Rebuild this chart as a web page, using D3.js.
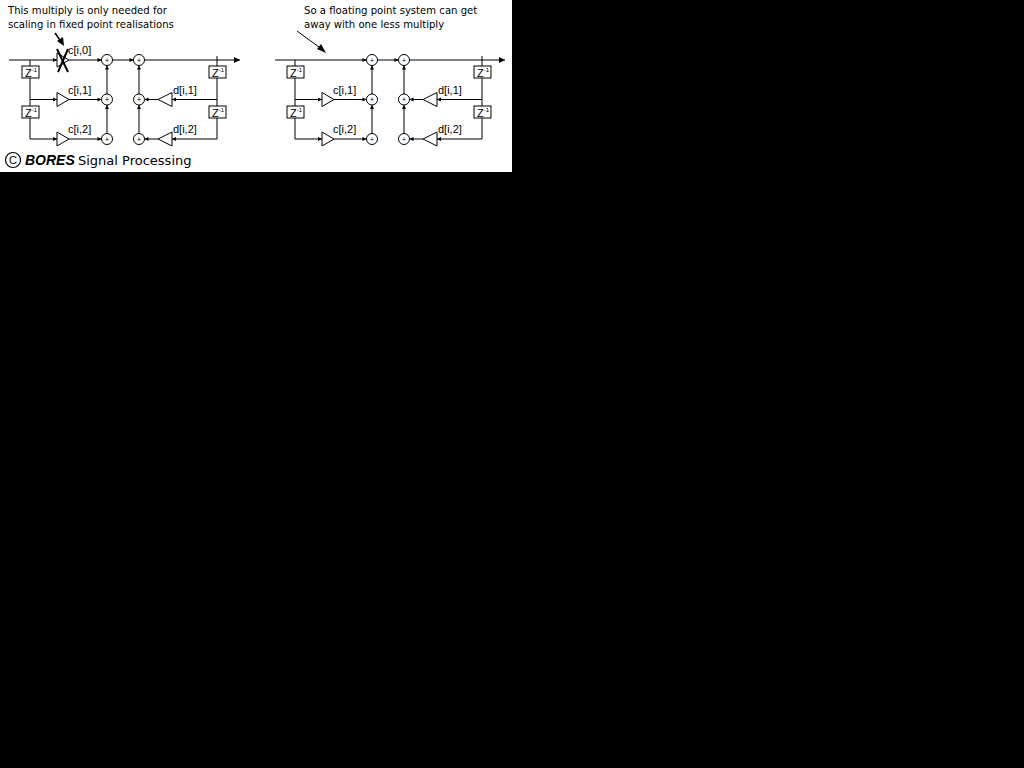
<!DOCTYPE html>
<html lang="en">
<head>
<meta charset="UTF-8">
<title>Biquad section - fixed vs floating point</title>
<style>
  body { margin: 0; background: #000; }
  svg { display: block; }
  text { font-family: "Liberation Sans", Arial, sans-serif; fill: #000; }
  .note, .credit { font-family: "DejaVu Sans", sans-serif; }
</style>
</head>
<body>
<div id="chart"></div>
<script src="https://d3js.org/d3.v7.min.js"></script>
<script>
// panels and their notes
const panels = ["fixed", "float"];
const notes = [
  ["This multiply is only needed for", "scaling in fixed point realisations"],
  ["So a floating point system can get", "away with one less multiply"]
];
// coefficient labels (feed-forward and feedback)
const ffLabels = ["c[i,0]", "c[i,1]", "c[i,2]"];
const fbLabels = ["d[i,1]", "d[i,2]"];
const rows = [0, 1, 2];
const credit = ["BORES", "Signal Processing"];

const W = 1024, H = 768;
const svg = d3.select("#chart").append("svg").attr("width", W).attr("height", H);
svg.append("rect").attr("width", 512).attr("height", 172).attr("fill", "#fff");

// scales
const panelX = d3.scalePoint().domain(panels).range([0, 265]);
const rowY = d3.scalePoint().domain(rows).range([60, 139]);

// column layout inside one panel
const col = { start: 9, delayL: 30, mult: 57, multW: 12, addF: 107, addB: 139,
              fbTip: 158, fbW: 14, delayR: 217, end: 240 };
const R = 5.5;

function line(g, x1, y1, x2, y2, w) {
  g.append("line").attr("x1", x1).attr("y1", y1).attr("x2", x2).attr("y2", y2)
    .attr("stroke", "#000").attr("stroke-width", w || 1);
}
// small filled arrow head, tip at (x,y)
function head(g, x, y, dir, s) {
  s = s || 4;
  const pts = {
    r: [[x, y], [x - s, y - s / 2], [x - s, y + s / 2]],
    l: [[x, y], [x + s, y - s / 2], [x + s, y + s / 2]],
    u: [[x, y], [x - s / 2, y + s], [x + s / 2, y + s]]
  }[dir];
  g.append("polygon").attr("points", pts.map(p => p.join(",")).join(" ")).attr("fill", "#000");
}
function adder(g, x, y) {
  g.append("circle").attr("cx", x).attr("cy", y).attr("r", R)
    .attr("fill", "#fff").attr("stroke", "#000");
  g.append("text").attr("x", x).attr("y", y + 2.5).attr("text-anchor", "middle")
    .attr("font-size", 7).text("+");
}
function delay(g, cx, y) {
  g.append("rect").attr("x", cx - 8).attr("y", y).attr("width", 17).attr("height", 12)
    .attr("fill", "#fff").attr("stroke", "#000");
  const t = g.append("text").attr("x", cx - 5).attr("y", y + 10.5).attr("font-size", 11);
  t.append("tspan").text("Z");
  t.append("tspan").attr("dy", -5).attr("font-size", 6).text("-1");
}
function gain(g, x, y, dir) {
  const w = dir === "r" ? col.multW : col.fbW, h = 7;
  const pts = dir === "r"
    ? [[x, y - h], [x + w, y], [x, y + h]]
    : [[x, y], [x + w, y - h], [x + w, y + h]];
  g.append("polygon").attr("points", pts.map(p => p.join(",")).join(" "))
    .attr("fill", "#fff").attr("stroke", "#000");
}

panels.forEach((p, pi) => {
  const g = svg.append("g").attr("transform", `translate(${panelX(p)},0)`);
  const y0 = rowY(0);

  // notes
  notes[pi].forEach((s, i) => {
    g.append("text").attr("class", "note").attr("x", pi ? 39 : 8).attr("y", 14 + i * 13.5)
      .attr("font-size", 10.1).text(s);
  });

  // main path
  if (pi === 0) {
    line(g, col.start, y0, col.mult, y0);
    head(g, col.mult, y0, "r");
    line(g, col.mult + col.multW, y0, col.addF - R, y0);
    head(g, col.addF - R, y0, "r");
    // annotation arrow
    line(g, 55, 33, 62, 43, 1.5);
    g.append("polygon").attr("points", "64,46 57,41 63,37").attr("fill", "#000");
  } else {
    line(g, 10, y0, col.addF - R, y0);
    head(g, col.addF - R, y0, "r");
    line(g, 32, 31, 58, 50);
    g.append("polygon").attr("points", "61,53 52,49 56,44").attr("fill", "#000");
  }
  line(g, col.addF + R, y0, col.addB - R, y0);
  head(g, col.addB - R, y0, "r");
  line(g, col.addB + R, y0, col.end, y0);
  head(g, col.end, y0, "r", 6);

  // left delay line
  const dTop = [66, 106];
  line(g, col.delayL, y0, col.delayL, dTop[0]);
  line(g, col.delayL, dTop[0] + 12, col.delayL, dTop[1]);
  line(g, col.delayL, dTop[1] + 12, col.delayL, rowY(2));
  dTop.forEach(y => delay(g, col.delayL, y));

  // right delay line
  line(g, col.delayR, y0 - 4, col.delayR, dTop[0]);
  line(g, col.delayR, dTop[0] + 12, col.delayR, dTop[1]);
  line(g, col.delayR, dTop[1] + 12, col.delayR, rowY(2));
  dTop.forEach(y => delay(g, col.delayR, y));

  // feed-forward taps
  ffLabels.forEach((lab, i) => {
    const y = rowY(i);
    if (i === 0 && pi === 1) return;
    if (i > 0) {
      line(g, col.delayL, y, col.mult, y);
      head(g, col.mult, y, "r");
      line(g, col.mult + col.multW, y, col.addF - R, y);
      head(g, col.addF - R, y, "r");
    }
    gain(g, col.mult, y, "r");
    g.append("text").attr("x", col.mult + 11).attr("y", y - 6)
      .attr("font-size", 11).text(lab);
  });
  if (pi === 0) {
    line(g, col.mult, y0 - 11, col.mult + 11, y0 + 12, 2);
    line(g, col.mult + 11, y0 - 11, col.mult + 1, y0 + 12, 2);
  }

  // forward adder column
  line(g, col.addF, rowY(2) - R, col.addF, rowY(1) + R);
  head(g, col.addF, rowY(1) + R, "u");
  line(g, col.addF, rowY(1) - R, col.addF, y0 + R);
  head(g, col.addF, y0 + R, "u");
  rows.forEach(r => adder(g, col.addF, rowY(r)));

  // feedback taps
  fbLabels.forEach((lab, i) => {
    const y = rowY(i + 1);
    line(g, col.delayR, y, col.fbTip + col.fbW, y);
    head(g, col.fbTip + col.fbW, y, "l");
    gain(g, col.fbTip, y, "l");
    line(g, col.fbTip, y, col.addB + R, y);
    head(g, col.addB + R, y, "l");
    g.append("text").attr("x", col.fbTip + col.fbW + 1).attr("y", y - 6)
      .attr("font-size", 11).text(lab);
  });

  // feedback adder column
  line(g, col.addB, rowY(2) - R, col.addB, rowY(1) + R);
  head(g, col.addB, rowY(1) + R, "u");
  line(g, col.addB, rowY(1) - R, col.addB, y0 + R);
  head(g, col.addB, y0 + R, "u");
  rows.forEach(r => adder(g, col.addB, rowY(r)));
});

// credit
const c = svg.append("g");
c.append("circle").attr("cx", 13).attr("cy", 160).attr("r", 7.5)
  .attr("fill", "none").attr("stroke", "#000").attr("stroke-width", 1.2);
c.append("text").attr("x", 13).attr("y", 164).attr("text-anchor", "middle")
  .attr("font-size", 11).text("C");
c.append("text").attr("x", 25).attr("y", 165).attr("font-size", 14)
  .attr("font-weight", "900").attr("font-style", "italic").text(credit[0]);
c.append("text").attr("class", "credit").attr("x", 78).attr("y", 165)
  .attr("font-size", 13).text(credit[1]);
</script>
</body>
</html>
